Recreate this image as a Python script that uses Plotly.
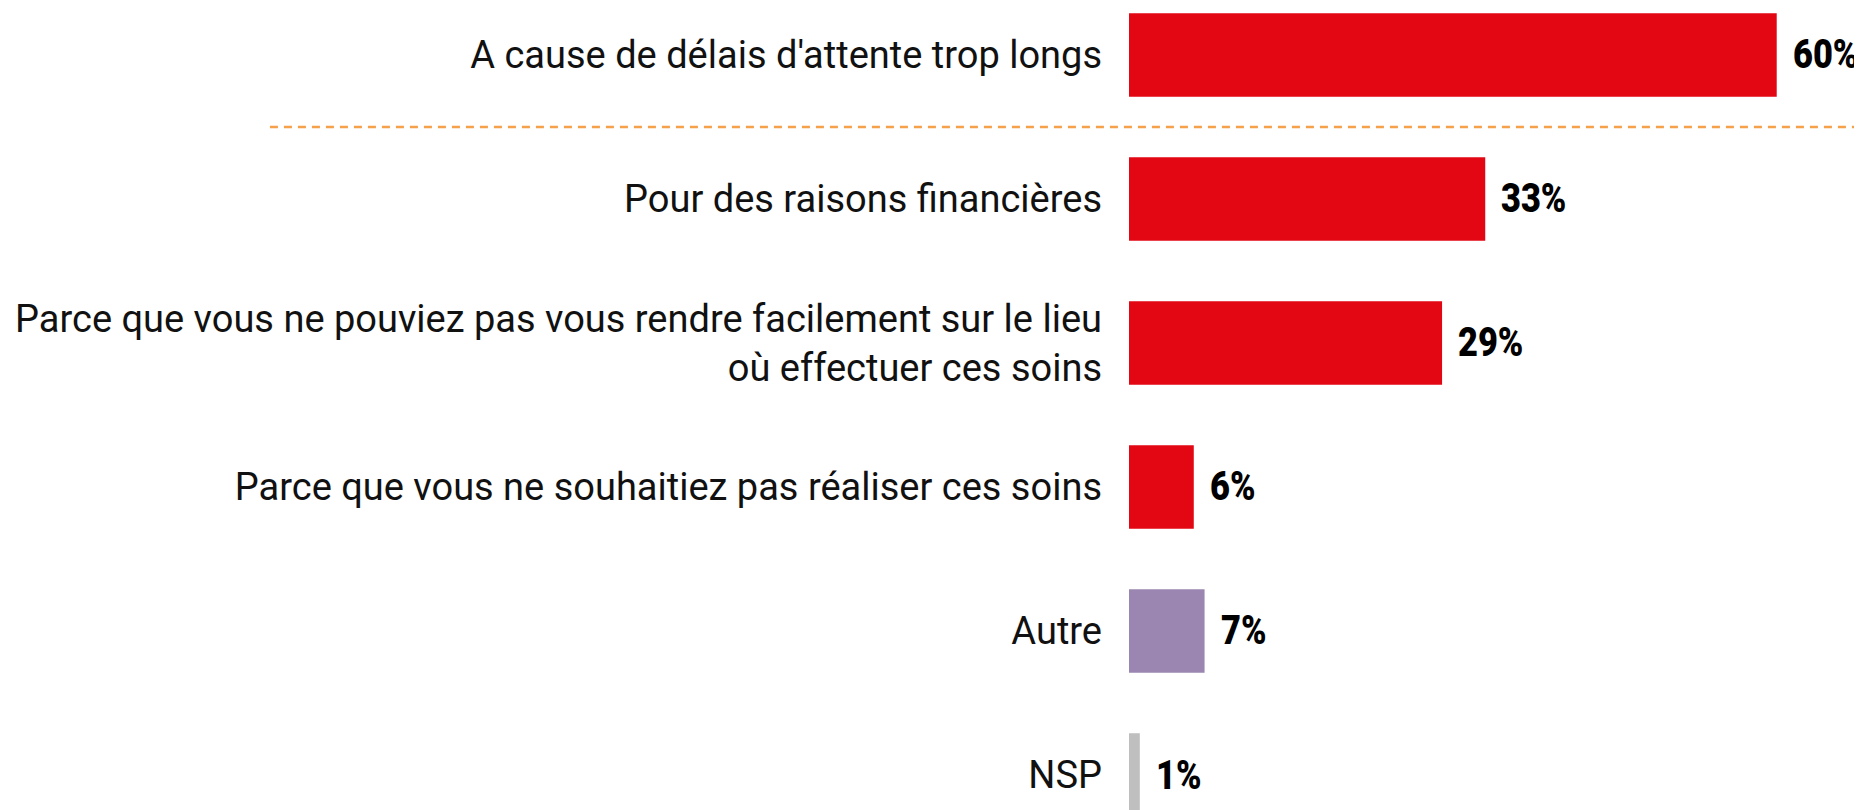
import plotly.graph_objects as go

categories = [
    "A cause de délais d'attente trop longs",
    "Pour des raisons financières",
    "Parce que vous ne pouviez pas vous rendre facilement sur le lieu<br>où effectuer ces soins",
    "Parce que vous ne souhaitiez pas réaliser ces soins",
    "Autre",
    "NSP",
]
values = [60, 33, 29, 6, 7, 1]
bar_colors = ["#E30613", "#E30613", "#E30613", "#E30613", "#9A86B0", "#BFBFBF"]

fig = go.Figure()

fig.add_trace(go.Bar(
    x=values,
    y=categories,
    orientation="h",
    marker=dict(color=bar_colors, line=dict(width=0)),
    width=0.58,
    hoverinfo="skip",
))

# value labels to the right of each bar
for cat, val in zip(categories, values):
    fig.add_annotation(
        x=val, y=cat, xref="x", yref="y",
        text=f"{val}%",
        showarrow=False,
        xanchor="left", yanchor="middle",
        xshift=14,
        font=dict(family="Roboto, sans-serif", size=40, color="#000000", weight=900),
    )

# dashed separator under the first item
fig.add_shape(
    type="line", xref="paper", yref="y",
    x0=-1.172, x1=1.0, y0=0.5, y1=0.5,
    line=dict(color="#F5A04A", width=2.5, dash="8px,6px"),
)

fig.update_layout(
    width=1854, height=802,
    margin=dict(l=1121, r=0, t=0, b=0),
    paper_bgcolor="white",
    plot_bgcolor="white",
    showlegend=False,
    font=dict(family="Roboto, sans-serif", size=38, color="#111111"),
)
fig.update_xaxes(range=[0, 67.9], visible=False, fixedrange=True)
fig.update_yaxes(
    type="category",
    range=[5.243, -0.326],
    showgrid=False, zeroline=False, showline=False,
    ticks="", ticklabelstandoff=26,
    automargin=False,
    tickfont=dict(family="Roboto, sans-serif", size=38, color="#111111"),
)

# squeeze the value labels horizontally (no condensed font available offline)
condense = (
    "var s=document.createElement('style');"
    "s.textContent='.annotation-text{transform-box:fill-box;"
    "transform-origin:0% 50%;transform:scaleX(0.86);}';"
    "document.head.appendChild(s);"
)

fig.write_html("out.html", post_script=condense)
